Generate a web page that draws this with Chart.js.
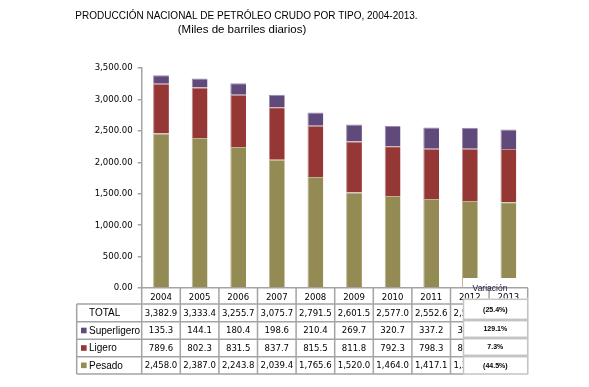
<!DOCTYPE html>
<html><head><meta charset="utf-8">
<script src="https://cdn.jsdelivr.net/npm/chart.js@4.4.0/dist/chart.umd.min.js"></script>
<style>html,body{margin:0;padding:0;background:#fff}#wrap{width:589px;height:387px;position:relative}</style>
</head><body><div id="wrap"><canvas id="c" width="589" height="387"></canvas></div>
<script>
const years = ['2004','2005','2006','2007','2008','2009','2010','2011','2012','2013'];
const pesado = [2458.0,2387.0,2243.8,2039.4,1765.6,1520.0,1464.0,1417.1,1385.0,1365.1];
const ligero = [789.6,802.3,831.5,837.7,815.5,811.8,792.3,798.3,828.9,847.5];
const superligero = [135.3,144.1,180.4,198.6,210.4,269.7,320.7,337.2,334.0,309.6];
const totals = [3382.9,3333.4,3255.7,3075.7,2791.5,2601.5,2577.0,2552.6,2547.9,2522.2];
const rowLabels = ['TOTAL','Superligero','Ligero','Pesado'];
const variacion = ['(25.4%)','129.1%','7.3%','(44.5%)'];
const titleText = 'PRODUCCIÓN NACIONAL DE PETRÓLEO CRUDO POR TIPO, 2004-2013.';
const subtitleText = '(Miles de barriles diarios)';
const variacionLabel = 'Variación';

const C_OLIVE = '#948A54', C_RED = '#953735', C_PURPLE = '#604A7B';
const NUMFONT = '"DejaVu Sans Condensed","DejaVu Sans",sans-serif';
const TXTFONT = '"Liberation Sans",Arial,sans-serif';
const LINE = '#a4a4a4';

function fmt(v, d){ return v.toLocaleString('en-US',{minimumFractionDigits:d, maximumFractionDigits:d}); }

const tablePlugin = {
  id:'tablePlugin',
  afterDraw(chart){
    const ctx = chart.ctx;
    const xs = chart.scales.x;
    const n = years.length;
    const cw = xs.width / n;
    const L = xs.left, R = xs.right;
    const rows = [304, 321.7, 339.3, 356.7, 374];
    const tableLeft = 76.7;
    ctx.save();
    // white overlay on bottoms of last bars
    ctx.fillStyle = '#fff';
    ctx.fillRect(463, 278, R - 463 + 1, 9);
    // table lines
    ctx.strokeStyle = LINE; ctx.lineWidth = 1.5;
    ctx.beginPath();
    rows.forEach(y => { ctx.moveTo(tableLeft, y); ctx.lineTo(R, y); });
    ctx.moveTo(tableLeft, rows[0]); ctx.lineTo(tableLeft, rows[4]);
    for (let i = 0; i <= n; i++) {
      const x = L + i * cw;
      ctx.moveTo(x, xs.top); ctx.lineTo(x, rows[4]);
    }
    ctx.stroke();
    // row labels and markers
    const markers = [null, C_PURPLE, C_RED, C_OLIVE];
    ctx.textBaseline = 'middle'; ctx.textAlign = 'left';
    ctx.font = '10px ' + TXTFONT; ctx.fillStyle = '#000';
    for (let r = 0; r < 4; r++) {
      const yc = (rows[r] + rows[r+1]) / 2;
      if (markers[r]) { ctx.fillStyle = markers[r]; ctx.fillRect(81, yc - 2.8, 5.6, 5.6); }
      ctx.fillStyle = '#000';
      ctx.fillText(rowLabels[r], 89, yc + 0.5);
    }
    // values
    const series = [totals, superligero, ligero, pesado];
    ctx.textAlign = 'center';
    ctx.font = '9.5px ' + NUMFONT;
    for (let r = 0; r < 4; r++) {
      const yc = (rows[r] + rows[r+1]) / 2;
      for (let i = 0; i < n; i++) {
        ctx.fillText(fmt(series[r][i], 1), xs.getPixelForValue(i), yc + 0.5);
      }
    }
    // variation box
    const vb = [[299.3,319.3],[320.7,337.3],[338.7,355.3],[356.7,374]];
    ctx.fillStyle = '#fff';
    ctx.fillRect(463, 298.5, R - 463 + 1, 376 - 298.5);
    ctx.strokeStyle = '#c4c4c4'; ctx.lineWidth = 1.5;
    vb.forEach(([a,b]) => { ctx.strokeRect(463.5, a, R - 463.5, b - a); });
    ctx.fillStyle = '#000'; ctx.font = 'bold 7px ' + TXTFONT;
    vb.forEach(([a,b], k) => { ctx.fillText(variacion[k], (463 + R) / 2, (a + b) / 2 + 0.5); });
    ctx.fillStyle = '#1a1a3a'; ctx.font = '8.5px ' + TXTFONT;
    ctx.fillText(variacionLabel, 490, 289);
    // titles
    ctx.fillStyle = '#000';
    ctx.font = '10px ' + TXTFONT;
    ctx.fillText(titleText, 246.5, 16.5);
    ctx.font = '11.5px ' + TXTFONT;
    ctx.fillText(subtitleText, 242, 29.5);
    ctx.restore();
  }
};

new Chart(document.getElementById('c'), {
  type:'bar',
  data:{
    labels: years,
    datasets:[
      {label:'Pesado', data:pesado, backgroundColor:C_OLIVE, borderColor:'#bdb592', borderWidth:{left:1,top:1,right:0,bottom:0}, borderSkipped:false},
      {label:'Ligero', data:ligero, backgroundColor:C_RED, borderColor:'#c48a89', borderWidth:{left:1,top:1,right:0,bottom:0}, borderSkipped:false},
      {label:'Superligero', data:superligero, backgroundColor:C_PURPLE, borderColor:'#9a8bb0', borderWidth:{left:1,top:1,right:0,bottom:0}, borderSkipped:false}
    ]
  },
  options:{
    responsive:false, devicePixelRatio:1, animation:false,
    layout:{padding:{left:0, right:61.3, top:68, bottom:83}},
    plugins:{legend:{display:false}, tooltip:{enabled:false}, title:{display:false}},
    datasets:{bar:{barPercentage:0.41, categoryPercentage:1}},
    scales:{
      x:{stacked:true, grid:{display:false, drawTicks:false},
         border:{display:true, color:LINE, width:1.5},
         ticks:{color:'#000', font:{family:NUMFONT, size:9.5}, padding:4, maxRotation:0, autoSkip:false},
         afterFit(s){ s.height = 16; }},
      y:{stacked:true, min:0, max:3500,
         grid:{display:true, drawOnChartArea:false, drawTicks:true, tickLength:4, color:LINE, lineWidth:1.5},
         border:{display:true, color:LINE, width:1.5},
         ticks:{stepSize:500, color:'#000', font:{family:NUMFONT, size:9.5}, padding:5, callback:v => fmt(v,2)},
         afterFit(s){ s.width = 141.7; }}
    }
  },
  plugins:[tablePlugin]
});
</script></body></html>
